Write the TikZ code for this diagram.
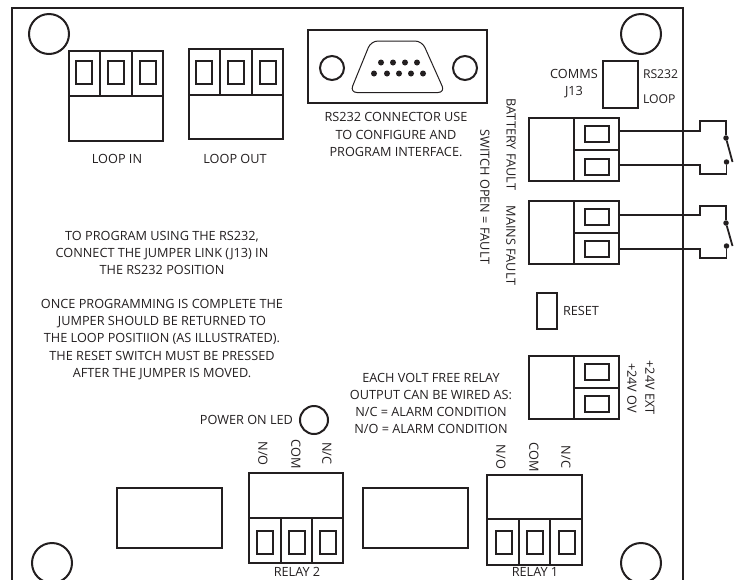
\documentclass[tikz,border=0pt]{standalone}
\usepackage{fontspec}
\setmainfont{Open Sans}
\usepackage{xcolor}
\usetikzlibrary{positioning}
\definecolor{inkblack}{HTML}{231F20}

\begin{document}
\begin{tikzpicture}[x=1pt,y=-1pt,inkblack,line width=2pt]
    \tikzstyle{box} = [rectangle, draw, inner sep=0pt, outer sep=0pt]
    \tikzstyle{screwv} = [box, minimum width=16pt, minimum height=23pt]
    \tikzstyle{screwh} = [box, minimum width=24pt, minimum height=16pt]
    \tikzstyle{cell} = [box, minimum width=45pt, minimum height=31.5pt]
    \tikzstyle{hole} = [circle, draw, inner sep=0pt, outer sep=0pt]
    \tikzstyle{contact} = [circle, fill, inner sep=0pt, outer sep=0pt, minimum size=5.5pt]
    \tikzstyle{label} = [inner sep=0pt, align=center,
               font=\fontsize{12.7}{17.2}\selectfont]
    \tikzstyle{wire} = [draw, line width=1.8pt]

    \useasboundingbox (0,0) rectangle (739,579);
    \clip (0,0) rectangle (739,579);

    % Board outline, open at the bottom
    \draw [line width=2.2pt] (12,590) -- (12,8) -- (683,8) -- (683,590);

    % Fixing holes
    \node [hole, minimum size=40pt] (holeTL) at (49,34) {};
    \node [hole, minimum size=40pt] (holeTR) at (641,34) {};
    \node [hole, minimum size=40pt] (holeBL) at (52,563) {};
    \node [hole, minimum size=40pt] (holeBR) at (641,563) {};

    % Loop in terminal
    \node [box, minimum width=94pt, minimum height=45pt] (loopInBody) at (116,118.5) {};
    \node [box, minimum width=31.5pt, minimum height=45pt] (loopInB) at (116,73.5) {};
    \node [box, minimum width=94pt, minimum height=45pt] (loopInTop) at (116,73.5) {};
    \foreach \i/\x in {1/84,2/116,3/148}
      \node [screwv] (loopIn-\i) at (\x,72.5) {};
    \node [label] (loopInText) at (117,159) {LOOP IN};

    % Loop out terminal
    \node [box, minimum width=94pt, minimum height=44pt] (loopOutBody) at (236,117) {};
    \node [box, minimum width=32pt, minimum height=46pt] (loopOutB) at (236,72) {};
    \node [box, minimum width=94pt, minimum height=46pt] (loopOutTop) at (236,72) {};
    \foreach \i/\x in {1/204,2/236,3/268}
      \node [screwv] (loopOut-\i) at (\x,72.5) {};
    \node [label] (loopOutText) at (235,159) {LOOP OUT};

    % RS232 connector
    \node [box, minimum width=179pt, minimum height=73pt] (rsBody) at (397.5,66.5) {};
    \node [hole, minimum size=24pt] (rsLeft) at (332,68) {};
    \node [hole, minimum size=24pt] (rsRight) at (465,68) {};
    \draw [line width=1pt, rounded corners=7pt]
      (371,41) -- (422,41) -- (445,92.5) -- (350,92.5) -- cycle;
    \foreach \x in {381,393,405,417}
      \fill (\x,62.5) circle (3pt);
    \foreach \x in {374,387,399,411,423}
      \fill (\x,73.5) circle (3pt);
    \node [label] (rsText) at (396,134.5)
      {RS232 CONNECTOR USE\\TO CONFIGURE AND\\PROGRAM INTERFACE.};

    % Comms jumper
    \node [box, minimum width=35pt, minimum height=47pt] (jumper) at (620.5,84.5) {};
    \node [label] (commsText) at (574,83.5) {COMMS\\J13};
    \node [label, font=\fontsize{12.2}{25}\selectfont, anchor=west, align=left] (jumperText) at (642,86.5)
      {RS232\\LOOP};

    % Battery fault terminal
    \node [box, minimum width=45pt, minimum height=63pt] (battBody) at (551.5,149.5) {};
    \node [cell] (battA) at (596.5,133.75) {};
    \node [cell] (battB) at (596.5,165.25) {};
    \node [screwh] (battScrewA) at (597,134) {};
    \node [screwh] (battScrewB) at (597,166.5) {};

    % Mains fault terminal
    \node [box, minimum width=45pt, minimum height=63pt] (mainsBody) at (551.5,232.5) {};
    \node [cell] (mainsA) at (596.5,216.75) {};
    \node [cell] (mainsB) at (596.5,248.25) {};
    \node [screwh] (mainsScrewA) at (597,217) {};
    \node [screwh] (mainsScrewB) at (597,249) {};

    % Power terminal
    \node [box, minimum width=45pt, minimum height=63pt] (powerBody) at (551.5,387.5) {};
    \node [cell] (powerA) at (596.5,371.75) {};
    \node [cell] (powerB) at (596.5,403.25) {};
    \node [screwh] (powerScrewA) at (597,372) {};
    \node [screwh] (powerScrewB) at (597,404) {};

    % Fault switches
    \node [contact] (battOn) at (726,138) {};
    \node [contact] (battOff) at (726.5,162) {};
    \coordinate (battArm) at (732.5,162);
    \node [contact] (mainsOn) at (726,223) {};
    \node [contact] (mainsOff) at (726.5,246) {};
    \coordinate (mainsArm) at (732.5,246);

    \draw [wire] ([yshift=2.75pt]battA.east) -- ++(81,0) -- ++(0,-10) -| (battOn);
    \draw [wire] ([yshift=0pt]battB.east) -- ++(81,0) -- ++(0,9) -| (battOff);
    \draw [wire] (battOn) -- (battArm);
    \draw [wire] ([yshift=1.75pt]mainsA.east) -- ++(81,0) -- ++(0,-9) -| (mainsOn);
    \draw [wire] ([yshift=-0.75pt]mainsB.east) -- ++(81,0) -- ++(0,9) -| (mainsOff);
    \draw [wire] (mainsOn) -- (mainsArm);

    % Side labels
    \node [label, rotate=-90] (battText) at (511,144.5) {BATTERY FAULT};
    \node [label, rotate=-90] (mainsText) at (511,245.5) {MAINS FAULT};
    \node [label, rotate=-90] (switchText) at (485,197) {SWITCH OPEN = FAULT};
    \node [label, rotate=-90] (extText) at (650,387.5) {+24V EXT};
    \node [label, rotate=-90] (ovText) at (632,388) {+24V OV};

    % Reset switch
    \node [box, minimum width=20pt, minimum height=36pt] (reset) at (547,311) {};
    \node [label, right=5pt of reset] (resetText) {RESET};

    % Notes
    \node [label] (programText) at (162,253)
      {TO PROGRAM USING THE RS232,\\CONNECT THE JUMPER LINK (J13) IN\\THE RS232 POSITION};
    \node [label] (onceText) at (162,339.5)
      {ONCE PROGRAMMING IS COMPLETE THE\\JUMPER SHOULD BE RETURNED TO\\THE LOOP POSITIION (AS ILLUSTRATED).\\THE RESET SWITCH MUST BE PRESSED\\AFTER THE JUMPER IS MOVED.};
    \node [label] (relayText) at (431,403.5)
      {EACH VOLT FREE RELAY\\OUTPUT CAN BE WIRED AS:\\N/C = ALARM CONDITION\\N/O = ALARM CONDITION};

    % Power LED
    \node [hole, minimum size=28pt] (powerLed) at (314,420) {};
    \node [label, left=6pt of powerLed] (ledText) {POWER ON LED};

    % Relay 2
    \node [box, minimum width=105pt, minimum height=60pt] (relayTwoBlank) at (169.5,518) {};
    \node [box, minimum width=94pt, minimum height=45pt] (relayTwoBody) at (296,495.5) {};
    \node [box, minimum width=31pt, minimum height=45pt] (relayTwoB) at (296.5,540.5) {};
    \node [box, minimum width=94pt, minimum height=45pt] (relayTwoTop) at (296,540.5) {};
    \foreach \i/\x in {1/265,2/296.5,3/328}
      \node [screwv] (relayTwo-\i) at (\x,542.5) {};
    \node [label, rotate=-90] (relayTwoNO) at (263,453.5) {N/O};
    \node [label, rotate=-90] (relayTwoCOM) at (296,454) {COM};
    \node [label, rotate=-90] (relayTwoNC) at (327,453.5) {N/C};
    \node [label] (relayTwoText) at (297,571.5) {RELAY 2};

    % Relay 1
    \node [box, minimum width=105pt, minimum height=60pt] (relayOneBlank) at (415.5,518) {};
    \node [box, minimum width=94.5pt, minimum height=44pt] (relayOneBody) at (534.5,497) {};
    \node [box, minimum width=31pt, minimum height=46pt] (relayOneB) at (534.5,542) {};
    \node [box, minimum width=94.5pt, minimum height=46pt] (relayOneTop) at (534.5,542) {};
    \foreach \i/\x in {1/504,2/535,3/567}
      \node [screwv] (relayOne-\i) at (\x,542.5) {};
    \node [label, rotate=-90] (relayOneNO) at (501,457) {N/O};
    \node [label, rotate=-90] (relayOneCOM) at (534,457) {COM};
    \node [label, rotate=-90] (relayOneNC) at (566,457) {N/C};
    \node [label] (relayOneText) at (535,571.5) {RELAY 1};

\end{tikzpicture}
\end{document}
